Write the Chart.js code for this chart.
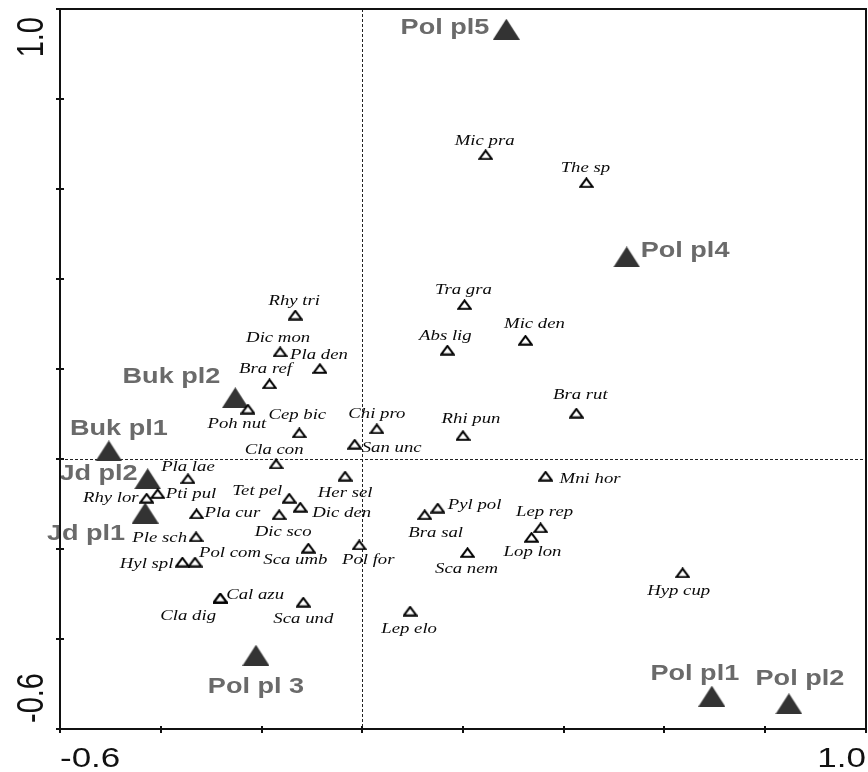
<!DOCTYPE html>
<html>
<head>
<meta charset="utf-8">
<script src="https://cdn.jsdelivr.net/npm/chart.js@4/dist/chart.umd.min.js"></script>
<style>
  html, body { margin: 0; padding: 0; background: #ffffff; }
  canvas { display: block; }
</style>
</head>
<body>
<canvas id="ordination" width="868" height="772"></canvas>
<script>
// Species scores (axis 1, axis 2)
const speciesNames = [
  'Mic pra', 'The sp', 'Tra gra', 'Mic den', 'Abs lig', 'Rhy tri', 'Dic mon', 'Pla den',
  'Bra ref', 'Bra rut', 'Poh nut', 'Cep bic', 'Chi pro', 'Rhi pun', 'San unc', 'Cla con',
  'Pla lae', 'Mni hor', 'Rhy lor', 'Pti pul', 'Tet pel', 'Her sel', 'Dic den', 'Pyl pol',
  'Bra sal', 'Lep rep', 'Lop lon', 'Sca nem', 'Pol for', 'Sca umb', 'Sca und', 'Lep elo',
  'Dic sco', 'Pla cur', 'Ple sch', 'Hyl spl', 'Pol com', 'Cal azu', 'Cla dig', 'Hyp cup'
];
const speciesAxis1 = [
  0.245, 0.445, 0.203, 0.324, 0.169, -0.133, -0.163, -0.084,
  -0.184, 0.425, -0.227, -0.125, 0.029, 0.200, -0.015, -0.171,
  -0.346, 0.364, -0.428, -0.406, -0.145, -0.034, -0.123, 0.150,
  0.124, 0.354, 0.336, 0.209, -0.006, -0.107, -0.117, 0.095,
  -0.165, -0.329, -0.330, -0.357, -0.332, -0.282, -0.282, 0.636
];
const speciesAxis2 = [
  0.676, 0.614, 0.343, 0.264, 0.242, 0.320, 0.238, 0.201,
  0.167, 0.102, 0.111, 0.058, 0.067, 0.052, 0.033, -0.011,
  -0.044, -0.038, -0.087, -0.077, -0.087, -0.038, -0.107, -0.109,
  -0.124, -0.153, -0.174, -0.208, -0.191, -0.198, -0.318, -0.338,
  -0.124, -0.122, -0.173, -0.229, -0.229, -0.309, -0.309, -0.253
];

// Sample plot scores (axis 1, axis 2)
const siteNames = ['Pol pl5', 'Pol pl4', 'Buk pl2', 'Buk pl1', 'Jd pl2', 'Jd pl1', 'Pol pl 3', 'Pol pl1', 'Pol pl2'];
const siteAxis1 = [0.286, 0.525, -0.252, -0.503, -0.426, -0.431, -0.211, 0.694, 0.847];
const siteAxis2 = [0.955, 0.449, 0.136, 0.018, -0.044, -0.120, -0.436, -0.527, -0.544];

// Axis ticks and their printed labels
const axisTicks = [-0.6, -0.4, -0.2, 0, 0.2, 0.4, 0.6, 0.8, 1.0];
const axisTickLabels = ['-0.6', '', '', '', '', '', '', '', '1.0'];

// Label placement next to each marker: [textAlign, dx, dy(baseline)]
const speciesLabelPlace = {
  'Mic pra': ['center', -1, -10], 'The sp': ['center', -1, -11], 'Tra gra': ['center', -1, -11],
  'Mic den': ['center', 9, -12], 'Abs lig': ['center', -2, -10], 'Rhy tri': ['center', -1, -10],
  'Dic mon': ['center', -2, -10], 'Pla den': ['center', -1, -10], 'Bra ref': ['center', -4, -11],
  'Bra rut': ['center', 4, -14], 'Poh nut': ['center', -11, 19], 'Cep bic': ['center', -2, -14],
  'Chi pro': ['center', 0, -11], 'Rhi pun': ['center', 8, -13], 'San unc': ['left', 7, 8],
  'Cla con': ['center', -2, -10], 'Pla lae': ['center', 0, -8], 'Mni hor': ['left', 14, 7],
  'Rhy lor': ['right', -8, 4], 'Pti pul': ['left', 8, 4], 'Tet pel': ['right', -7, -3],
  'Her sel': ['center', 0, 21], 'Dic den': ['left', 12, 10], 'Pyl pol': ['left', 10, 1],
  'Bra sal': ['center', 11, 22], 'Lep rep': ['center', 4, -12], 'Lop lon': ['center', 1, 19],
  'Sca nem': ['center', -1, 20], 'Pol for': ['center', 9, 19], 'Sca umb': ['center', -13, 16],
  'Sca und': ['center', 0, 21], 'Lep elo': ['center', -1, 22], 'Dic sco': ['center', 4, 21],
  'Pla cur': ['left', 8, 3], 'Ple sch': ['right', -9, 5], 'Hyl spl': ['right', -9, 6],
  'Pol com': ['left', 4, -5], 'Cal azu': ['left', 6, 1], 'Cla dig': ['center', -32, 22],
  'Hyp cup': ['center', -4, 22]
};
const siteLabelPlace = {
  'Pol pl5': ['right', -17, 5], 'Pol pl4': ['left', 14, 0], 'Buk pl2': ['right', -15, -15],
  'Buk pl1': ['center', 10, -16], 'Jd pl2': ['right', -10, 1], 'Jd pl1': ['right', -20, 27],
  'Pol pl 3': ['center', 0, 38], 'Pol pl1': ['center', -17, -16], 'Pol pl2': ['center', 11, -19]
};

// Marker sprites: open triangle for species, filled triangle for plots
function triangleSprite(w, h, fill, stroke, lw) {
  const c = document.createElement('canvas');
  c.width = w; c.height = h;
  const g = c.getContext('2d');
  const pad = lw ? lw / 2 + 0.3 : 0;
  g.beginPath();
  g.moveTo(w / 2, pad);
  g.lineTo(w - pad, h - pad);
  g.lineTo(pad, h - pad);
  g.closePath();
  if (fill) { g.fillStyle = fill; g.fill(); }
  if (stroke) { g.lineWidth = lw; g.strokeStyle = stroke; g.lineJoin = 'miter'; g.stroke(); }
  return c;
}
const speciesMarker = triangleSprite(15, 11, '#ffffff', '#000000', 2);
const siteMarker = triangleSprite(27, 21, '#333333', null, 0);

function stretchedText(ctx, text, x, y, align, font, color, sx) {
  ctx.save();
  ctx.translate(x, y);
  ctx.scale(sx, 1);
  ctx.font = font;
  ctx.fillStyle = color;
  ctx.textAlign = align;
  ctx.textBaseline = 'alphabetic';
  ctx.fillText(text, 0, 0);
  ctx.restore();
}

const ordinationDecor = {
  id: 'ordinationDecor',
  beforeDatasetsDraw(chart) {
    const { ctx, chartArea: a, scales: { x, y } } = chart;
    ctx.save();
    ctx.strokeStyle = '#222222';
    ctx.lineWidth = 1;
    ctx.setLineDash([3, 2]);
    const x0 = Math.round(x.getPixelForValue(0)) + 0.5;
    const y0 = Math.round(y.getPixelForValue(0)) + 0.5;
    ctx.beginPath();
    ctx.moveTo(x0, a.top); ctx.lineTo(x0, a.bottom);
    ctx.moveTo(a.left, y0); ctx.lineTo(a.right, y0);
    ctx.stroke();
    ctx.restore();
  },
  afterDatasetsDraw(chart) {
    const { ctx, chartArea: a, scales: { x, y } } = chart;

    // marker labels
    const speciesFont = "italic 15px 'Liberation Serif', 'Times New Roman', serif";
    const siteFont = "bold 22px 'Liberation Sans', Arial, sans-serif";
    chart.data.datasets.forEach((ds, di) => {
      const meta = chart.getDatasetMeta(di);
      meta.data.forEach((pt, i) => {
        const name = ds.data[i].name;
        if (ds.kind === 'species') {
          const [al, dx, dy] = speciesLabelPlace[name];
          stretchedText(ctx, name, pt.x + dx, pt.y + dy, al, speciesFont, '#0a0a0a', 1.25);
        } else {
          const [al, dx, dy] = siteLabelPlace[name];
          stretchedText(ctx, name, pt.x + dx, pt.y + dy, al, siteFont, '#6a6a6a', 1.23);
        }
      });
    });

    // frame
    ctx.save();
    ctx.strokeStyle = '#111111';
    ctx.lineWidth = 2;
    ctx.setLineDash([]);
    ctx.strokeRect(a.left, a.top, a.right - a.left, a.bottom - a.top);

    // tick marks crossing the left and bottom axes
    ctx.beginPath();
    axisTicks.forEach(v => {
      const py = Math.round(y.getPixelForValue(v));
      ctx.moveTo(a.left - 4, py); ctx.lineTo(a.left + 4, py);
      const px = Math.round(x.getPixelForValue(v));
      ctx.moveTo(px, a.bottom - 3); ctx.lineTo(px, a.bottom + 4);
    });
    ctx.stroke();
    ctx.restore();

    // tick labels
    const tickFont = "28px 'Liberation Sans', Arial, sans-serif";
    const last = axisTicks.length - 1;
    axisTicks.forEach((v, i) => {
      const lab = axisTickLabels[i];
      if (!lab) return;
      // horizontal axis
      const px = x.getPixelForValue(v);
      stretchedText(ctx, lab, px, a.bottom + 38, i === 0 ? 'left' : (i === last ? 'right' : 'center'),
                    tickFont, '#111111', 1.25);
      // vertical axis, rotated
      const py = y.getPixelForValue(v);
      ctx.save();
      ctx.translate(a.left - 17, i === 0 ? py - 6 : (i === last ? py + 8 : py));
      ctx.scale(1.25, 1);
      ctx.rotate(-Math.PI / 2);
      ctx.font = "29px 'Liberation Sans', Arial, sans-serif";
      ctx.fillStyle = '#111111';
      ctx.textAlign = i === 0 ? 'left' : (i === last ? 'right' : 'center');
      ctx.textBaseline = 'alphabetic';
      ctx.fillText(lab, 0, 0);
      ctx.restore();
    });
  }
};

new Chart(document.getElementById('ordination'), {
  type: 'scatter',
  data: {
    datasets: [
      {
        kind: 'species',
        label: 'Species',
        data: speciesNames.map((n, i) => ({ x: speciesAxis1[i], y: speciesAxis2[i], name: n })),
        pointStyle: speciesMarker,
        pointRadius: 7,
        pointHoverRadius: 7
      },
      {
        kind: 'sites',
        label: 'Plots',
        data: siteNames.map((n, i) => ({ x: siteAxis1[i], y: siteAxis2[i], name: n })),
        pointStyle: siteMarker,
        pointRadius: 13,
        pointHoverRadius: 13
      }
    ]
  },
  options: {
    responsive: false,
    animation: false,
    events: [],
    layout: { autoPadding: false, padding: { left: 60, right: 2, top: 9, bottom: 43 } },
    plugins: { legend: { display: false }, tooltip: { enabled: false } },
    scales: {
      x: { type: 'linear', min: -0.6, max: 1.0, display: false },
      y: { type: 'linear', min: -0.6, max: 1.0, display: false }
    }
  },
  plugins: [ordinationDecor]
});
</script>
</body>
</html>
